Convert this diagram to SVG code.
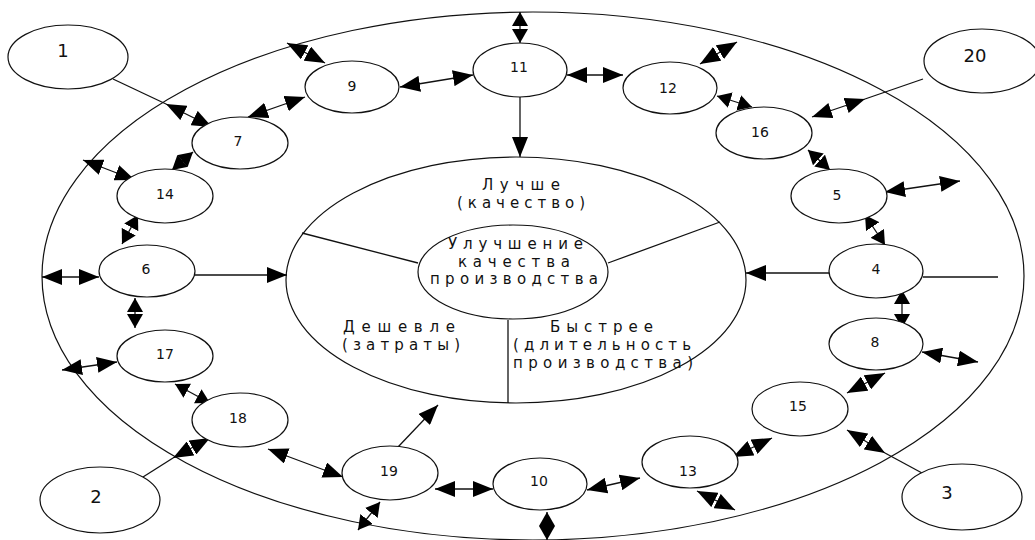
<svg xmlns="http://www.w3.org/2000/svg" width="1035" height="540" viewBox="0 0 1035 540">
<style>
.el{fill:none;stroke:#111;stroke-width:1.2}
.nd{fill:#fff;stroke:#111;stroke-width:1.2}
.ln{fill:none;stroke:#111;stroke-width:1.3}
.dbl{fill:none;stroke:#111;stroke-width:1.3;marker-start:url(#ah);marker-end:url(#ah)}
.dbs{fill:none;stroke:#111;stroke-width:1.3;marker-start:url(#ahs);marker-end:url(#ahs)}
.one{fill:none;stroke:#111;stroke-width:1.3;marker-end:url(#ah)}
.num{font-family:"DejaVu Sans",Verdana,sans-serif;font-size:14px;fill:#111;text-anchor:middle}
.big{font-size:18px}
.lbl{font-family:"DejaVu Sans",Verdana,sans-serif;font-size:15px;fill:#111}
</style>
<defs>
<marker id="ah" viewBox="0 0 20 16" refX="20" refY="8" markerWidth="20" markerHeight="16" markerUnits="userSpaceOnUse" orient="auto-start-reverse">
<path d="M0,0 L20,8 L0,16 z" fill="#000"/>
</marker>
<marker id="ahs" viewBox="0 0 14 16" refX="14" refY="8" markerWidth="14" markerHeight="16" markerUnits="userSpaceOnUse" orient="auto-start-reverse">
<path d="M0,0 L14,8 L0,16 z" fill="#000"/>
</marker>
</defs>
<rect width="1035" height="540" fill="#fff"/>
<g id="frame">
<ellipse class="el" cx="533" cy="276" rx="491" ry="264"/>
</g>
<g id="center">
<ellipse class="el" cx="516" cy="280" rx="230" ry="123"/>
<line class="ln" x1="302" y1="233" x2="418" y2="263"/>
<line class="ln" x1="608" y1="263" x2="720" y2="222"/>
<line class="ln" x1="508" y1="320" x2="508" y2="403"/>
<ellipse class="nd" cx="513" cy="272" rx="95" ry="47"/>
<text class="lbl" x="482" y="190" textLength="78" lengthAdjust="spacing">Лучше</text>
<text class="lbl" x="457" y="208" textLength="128" lengthAdjust="spacing">(качество)</text>
<text class="lbl" x="448" y="249" textLength="135" lengthAdjust="spacing">Улучшение</text>
<text class="lbl" x="458" y="266.5" textLength="112" lengthAdjust="spacing">качества</text>
<text class="lbl" x="430" y="284" textLength="168" lengthAdjust="spacing">производства</text>
<text class="lbl" x="343" y="332" textLength="112" lengthAdjust="spacing">Дешевле</text>
<text class="lbl" x="342" y="350" textLength="118" lengthAdjust="spacing">(затраты)</text>
<text class="lbl" x="550" y="332" textLength="103" lengthAdjust="spacing">Быстрее</text>
<text class="lbl" x="513" y="350" textLength="178" lengthAdjust="spacing">(длительность</text>
<text class="lbl" x="513" y="368" textLength="180" lengthAdjust="spacing">производства)</text>
</g>
<g id="connectors">
<line class="ln" x1="113" y1="79" x2="166" y2="104"/>
<line class="dbl" x1="166" y1="104" x2="212" y2="127"/>
<line class="dbl" x1="287" y1="43" x2="325" y2="63"/>
<line class="dbl" x1="248" y1="117" x2="305" y2="97"/>
<line class="dbs" x1="172" y1="170" x2="193" y2="152"/>
<line class="dbl" x1="83" y1="160" x2="135" y2="180"/>
<line class="dbl" x1="400" y1="87" x2="473" y2="75"/>
<line class="dbs" x1="520" y1="12" x2="520" y2="43"/>
<line class="dbl" x1="567" y1="75" x2="623" y2="75"/>
<line class="one" x1="520" y1="96" x2="520" y2="157"/>
<line class="dbl" x1="700" y1="64" x2="737" y2="42"/>
<line class="dbs" x1="717" y1="96" x2="752" y2="107"/>
<line class="ln" x1="923" y1="79" x2="865" y2="99"/>
<line class="dbl" x1="865" y1="99" x2="812" y2="117"/>
<line class="dbs" x1="808" y1="150" x2="830" y2="170"/>
<line class="dbl" x1="885" y1="192" x2="960" y2="181"/>
<line class="dbs" x1="865" y1="215" x2="885" y2="245"/>
<line class="one" x1="829" y1="273" x2="746" y2="273"/>
<line class="ln" x1="923" y1="277" x2="998" y2="277"/>
<line class="dbs" x1="902" y1="290" x2="902" y2="328"/>
<line class="dbl" x1="922" y1="352" x2="978" y2="362"/>
<line class="dbl" x1="885" y1="373" x2="847" y2="393"/>
<line class="ln" x1="922" y1="473" x2="885" y2="453"/>
<line class="dbl" x1="885" y1="453" x2="847" y2="430"/>
<line class="dbl" x1="772" y1="438" x2="733" y2="457"/>
<line class="dbl" x1="697" y1="491" x2="735" y2="510"/>
<line class="dbl" x1="587" y1="490" x2="640" y2="478"/>
<line class="dbl" x1="435" y1="489" x2="493" y2="489"/>
<line class="dbs" x1="547" y1="512" x2="547" y2="540"/>
<line class="dbs" x1="380" y1="502" x2="358" y2="530"/>
<line class="one" x1="398" y1="447" x2="438" y2="405"/>
<line class="dbl" x1="268" y1="449" x2="343" y2="477"/>
<line class="ln" x1="143" y1="477" x2="173" y2="458"/>
<line class="dbl" x1="173" y1="458" x2="210" y2="438"/>
<line class="dbs" x1="175" y1="384" x2="210" y2="403"/>
<line class="dbl" x1="62" y1="370" x2="117" y2="362"/>
<line class="dbl" x1="42" y1="277" x2="99" y2="277"/>
<line class="one" x1="194" y1="275" x2="287" y2="275"/>
<line class="dbs" x1="135" y1="298" x2="135" y2="328"/>
<line class="dbs" x1="138" y1="215" x2="122" y2="244"/>
</g>
<g id="n1"><ellipse class="nd" cx="68" cy="57" rx="60" ry="32"/><text class="num big" x="63" y="57">1</text></g>
<g id="n2"><ellipse class="nd" cx="100" cy="500" rx="60" ry="33"/><text class="num big" x="96" y="503">2</text></g>
<g id="n3"><ellipse class="nd" cx="962" cy="497" rx="60" ry="33"/><text class="num big" x="947" y="499">3</text></g>
<g id="n20"><ellipse class="nd" cx="982" cy="61" rx="58" ry="32"/><text class="num big" x="975" y="62">20</text></g>
<g id="n7"><ellipse class="nd" cx="240" cy="143" rx="48" ry="26"/><text class="num" x="238" y="146">7</text></g>
<g id="n9"><ellipse class="nd" cx="352" cy="87" rx="47" ry="26"/><text class="num" x="352" y="91">9</text></g>
<g id="n11"><ellipse class="nd" cx="520" cy="70" rx="47" ry="27"/><text class="num" x="519" y="72">11</text></g>
<g id="n12"><ellipse class="nd" cx="670" cy="88" rx="47" ry="26"/><text class="num" x="668" y="93">12</text></g>
<g id="n16"><ellipse class="nd" cx="764" cy="133" rx="48" ry="26"/><text class="num" x="760" y="137">16</text></g>
<g id="n14"><ellipse class="nd" cx="165" cy="196" rx="48" ry="27"/><text class="num" x="165" y="199">14</text></g>
<g id="n5"><ellipse class="nd" cx="839" cy="196" rx="48" ry="27"/><text class="num" x="837" y="200">5</text></g>
<g id="n6"><ellipse class="nd" cx="147" cy="271" rx="48" ry="26"/><text class="num" x="146" y="274">6</text></g>
<g id="n4"><ellipse class="nd" cx="876" cy="271" rx="47" ry="27"/><text class="num" x="876" y="274">4</text></g>
<g id="n17"><ellipse class="nd" cx="165" cy="356" rx="48" ry="26"/><text class="num" x="165" y="359">17</text></g>
<g id="n8"><ellipse class="nd" cx="876" cy="344" rx="47" ry="26"/><text class="num" x="875" y="347">8</text></g>
<g id="n18"><ellipse class="nd" cx="240" cy="420" rx="48" ry="27"/><text class="num" x="238" y="423">18</text></g>
<g id="n15"><ellipse class="nd" cx="800" cy="409" rx="48" ry="27"/><text class="num" x="798" y="411">15</text></g>
<g id="n19"><ellipse class="nd" cx="390" cy="473" rx="48" ry="27"/><text class="num" x="389" y="476">19</text></g>
<g id="n10"><ellipse class="nd" cx="540" cy="484" rx="47" ry="26"/><text class="num" x="539" y="486">10</text></g>
<g id="n13"><ellipse class="nd" cx="690" cy="462" rx="48" ry="26"/><text class="num" x="688" y="476">13</text></g>
</svg>
